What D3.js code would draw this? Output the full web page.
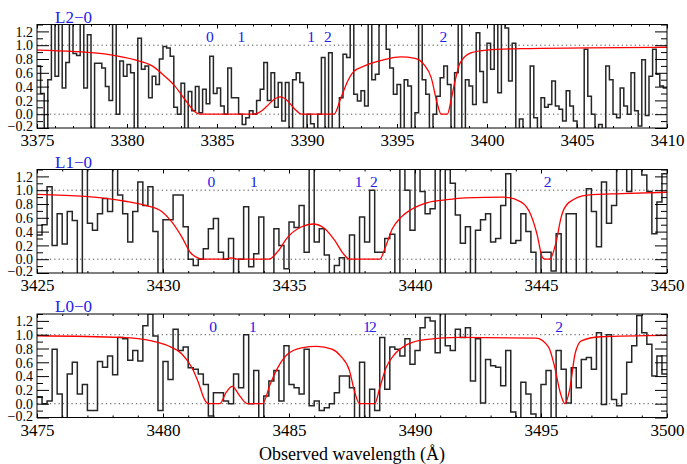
<!DOCTYPE html>
<html>
<head>
<meta charset="utf-8">
<script src="https://cdn.jsdelivr.net/npm/d3@7"></script>
<style>
body { margin: 0; background: #fff; }
</style>
</head>
<body>
<svg id="chart" width="687" height="464"></svg>
<script>
// spectra are binned at 0.2 A, one value per bin, starting at the panel's left edge
var binWidth = 0.2;
var bandNames = ["L2\u22120", "L1\u22120", "L0\u22120"];
var rangeStart = [3375, 3425, 3475];
var rangeEnd = [3410, 3450, 3500];
var xTicks1 = [3375, 3380, 3385, 3390, 3395, 3400, 3405, 3410];
var xTicks2 = [3425, 3430, 3435, 3440, 3445, 3450];
var xTicks3 = [3475, 3480, 3485, 3490, 3495, 3500];
var yTicks = [-0.2, 0, 0.2, 0.4, 0.6, 0.8, 1.0, 1.2];
var yMinor = [-0.1, 0.1, 0.3, 0.5, 0.7, 0.9, 1.1, 1.3];

var flux1 = [
  0.70, 0.30, -0.22, 0.50, 1.40, 0.55, 1.40, 0.38, 0.75, 1.40,
  0.88, 0.85, 1.40, 0.38, 1.15, -0.22, 0.74, 0.74, 0.67, 0.40,
  0.20, 1.40, 0.00, 0.77, 0.55, 0.72, 0.60, -0.22, 1.10, 0.65,
  0.70, 0.24, 0.55, 0.43, 0.80, 0.98, 0.96, 0.84, 0.10, 0.00,
  0.45, -0.22, 0.33, 0.05, 0.40, 0.02, 0.36, 0.15, 0.84, 0.30,
  0.38, 0.12, 0.00, 0.67, 0.24, 0.24, 0.00, -0.15, -0.05,
  0.05, 0.00, 0.20, 0.36, 0.75, 0.20, 0.60, 0.10, 0.46, -0.10,
  0.46, -0.22, 0.50, 0.60, 0.46, -0.22, 0.00, -0.14, -0.22, 0.00,
  0.82, -0.22, 0.89, -0.22, -0.22, 0.24, 0.87, 0.82, 1.40, 0.29,
  0.19, 0.34, 0.12, 1.40, 0.50, 0.58, 1.40, 1.40, 0.94, 0.67,
  0.29, 0.43, -0.22, 0.50, 0.41, -0.22, 0.02, 1.40, 0.50, 0.29,
  -0.22, 0.00, 0.26, 0.53, 0.70, 0.43, -0.22, 0.60, 1.40,
  -0.22, 0.50, 0.41, 0.14, 1.18, 0.62, 0.17, 1.03, 0.65, 1.40,
  0.31, 1.40, 1.25, 0.48, 1.03, -0.22, -0.07, -0.22, -0.22, 0.70,
  -0.05, -0.22, 0.24, 0.10, 0.14, 0.48, 0.12, 0.07, -0.10, 0.34,
  0.12, -0.10, -0.22, -0.22, 0.94, 0.26, 0.00, -0.22, -0.15, -0.22,
  0.70, 0.50, 0.00, -0.05, 0.38, 0.12, 0.00, 0.60, 0.05, -0.17,
  0.79, -0.02, 0.55, 0.94, 0.58, 0.41, 0.38
];

var flux2 = [
  0.35, 0.50, 1.05, 0.20, 0.66, 0.22, 0.69, 0.56, -0.22, 1.40,
  0.52, 0.42, 0.66, 0.88, 0.69, 1.40, 0.93, 0.66, 0.25, 0.69,
  1.12, 0.78, 1.05, 0.40, -0.22, 0.57, 0.57, 0.93, 0.93, 0.47,
  0.00, -0.09, 0.00, 0.15, 0.44, 0.59, 0.10, 0.00, 0.30, -0.22,
  0.00, 0.76, -0.11, 0.08, 0.61, -0.22, -0.22, 0.44, 0.20, -0.14,
  0.54, 0.46, 0.78, 0.10, 1.40, 0.25, 0.44, 0.06, -0.22, -0.09,
  0.02, -0.22, 0.35, -0.22, 0.61, 0.25, 1.00, 0.10, 0.10, 0.30,
  0.36, -0.22, 1.40, 1.00, 0.42, 1.40, 0.98, 0.66, 0.73, 1.40,
  -0.22, 1.30, 1.10, 0.64, 0.23, 0.47, -0.22, 0.42, 0.57, 0.66,
  0.25, 0.30, 0.78, 1.24, 0.23, 0.27, 0.66, 0.40, 0.10, -0.22,
  0.10, 0.10, -0.17, 0.37, -0.22, 0.66, 0.66, -0.22, -0.22, 1.02,
  0.69, 0.18, 1.12, 0.52, 0.78, 1.40, 1.40, 0.98, 1.40, 1.40,
  1.22, 0.98, 0.37, 0.83, 1.24
];

var flux3 = [
  0.10, 0.00, 0.04, 0.79, 0.14, -0.22, 0.43, 0.60, 0.14, 0.28,
  -0.10, -0.10, 0.61, 0.53, 0.69, 0.42, 0.96, 0.94, 0.63, 0.77,
  0.62, 1.13, 1.30, 0.98, -0.10, 0.61, 0.35, 1.08, 0.77, 0.82,
  0.52, 0.50, 0.43, 0.28, -0.18, 0.16, 0.16, 0.04, 0.00, 0.43,
  0.23, 1.00, 0.00, 0.48, -0.22, 0.11, 0.33, 0.48, 0.04, 0.84,
  0.28, 0.23, 0.14, 0.79, -0.03, 0.04, -0.10, -0.06, 0.00, 0.16,
  0.40, 0.40, 0.23, -0.22, 0.60, -0.22, 0.21, -0.10, 0.96, 0.21,
  0.82, 0.79, 0.69, 0.94, 0.57, 0.77, 1.10, 1.25, 1.20, 0.74,
  1.40, 0.84, 0.77, 1.08, 0.96, 1.10, 0.33, 0.94, 0.01, 0.64,
  0.55, 0.53, 0.26, 0.77, -0.12, -0.22, 0.31, 0.14, -0.15, -0.22,
  0.28, 0.48, -0.22, 0.77, 0.50, 0.01, 0.52, 0.23, 0.64, 0.67,
  0.50, 1.03, -0.01, 1.00, 0.06, -0.03, 0.14, 0.60, 0.84, 1.28,
  1.03, 0.86, 0.40, 0.69, 0.43
];

// fitted model as [wavelength, normalized flux]
var model1 = [
  [3375, 0.93], [3377, 0.91], [3379.1, 0.86], [3380.4, 0.79], [3381.4, 0.70],
  [3382.1, 0.55], [3382.65, 0.41], [3383.2, 0.22], [3383.75, 0.04], [3384.05, 0.0],
  [3387.0, 0.0], [3387.3, 0.02], [3387.75, 0.11], [3388.1, 0.20], [3388.5, 0.25],
  [3388.9, 0.20], [3389.3, 0.08], [3389.7, 0.0], [3391.5, 0.0], [3391.9, 0.25],
  [3392.3, 0.50], [3392.6, 0.62], [3393.2, 0.70], [3394.3, 0.79], [3395.2, 0.83],
  [3396.0, 0.81], [3396.5, 0.72], [3396.9, 0.53], [3397.25, 0.14], [3397.45, 0.0],
  [3397.8, 0.0], [3398.0, 0.20], [3398.2, 0.45], [3398.5, 0.74], [3399.1, 0.89],
  [3400.0, 0.93], [3401.9, 0.95], [3405.6, 0.96], [3410, 0.97]
];
var model2 = [
  [3425, 0.94], [3426.9, 0.91], [3428.5, 0.84], [3429.3, 0.78], [3429.95, 0.69],
  [3430.35, 0.54], [3430.75, 0.32], [3431.1, 0.09], [3431.45, 0.01], [3431.6, 0.0],
  [3432.4, 0.0], [3432.7, 0.02], [3433.0, 0.0], [3434.2, 0.0], [3434.55, 0.11],
  [3434.95, 0.32], [3435.5, 0.47], [3435.95, 0.51], [3436.4, 0.45], [3436.8, 0.28],
  [3437.2, 0.06], [3437.4, 0.0], [3438.6, 0.0], [3438.85, 0.20], [3439.1, 0.44],
  [3439.45, 0.61], [3439.85, 0.72], [3440.5, 0.82], [3441.2, 0.86], [3442, 0.89],
  [3443.5, 0.90], [3444.2, 0.83], [3444.6, 0.64], [3444.85, 0.35], [3445.05, 0.03],
  [3445.15, 0.0], [3445.35, 0.0], [3445.6, 0.25], [3445.8, 0.61], [3446.1, 0.82],
  [3446.85, 0.93], [3448.2, 0.95], [3450, 0.97]
];
var model3 = [
  [3475, 0.985], [3478.35, 0.96], [3479.55, 0.91], [3480.2, 0.84], [3480.75, 0.72],
  [3481.15, 0.52], [3481.4, 0.31], [3481.65, 0.06], [3481.8, 0.0], [3482.25, 0.0],
  [3482.5, 0.16], [3482.75, 0.25], [3483.05, 0.11], [3483.35, 0.0], [3483.95, 0.0],
  [3484.25, 0.28], [3484.55, 0.52], [3484.95, 0.72], [3485.5, 0.81], [3486.1, 0.83],
  [3486.7, 0.79], [3487.05, 0.69], [3487.4, 0.48], [3487.6, 0.18], [3487.8, 0.0],
  [3488.4, 0.0], [3488.6, 0.23], [3488.85, 0.52], [3489.2, 0.72], [3489.7, 0.86],
  [3490.4, 0.93], [3491.8, 0.96], [3494.8, 0.95], [3495.3, 0.82], [3495.55, 0.52],
  [3495.75, 0.18], [3495.95, 0.0], [3496.15, 0.23], [3496.35, 0.72], [3496.6, 0.91],
  [3497.35, 0.97], [3500, 0.99]
];

// component labels: [wavelength, text]
var comps1 = [[3384.6, "0"], [3386.35, "1"], [3390.23, "1"], [3391.16, "2"], [3397.57, "2"]];
var comps2 = [[3431.92, "0"], [3433.61, "1"], [3437.76, "1"], [3438.37, "2"], [3445.26, "2"]];
var comps3 = [[3481.99, "0"], [3483.57, "1"], [3488.09, "1"], [3488.33, "2"], [3495.72, "2"]];

var serif = "'Liberation Serif', 'Times New Roman', Times, 'DejaVu Serif', serif";
var svg = d3.select("#chart").style("font-family", serif);
var left = 37, width = 630, height = 103.5;
var tops = [24.5, 169.5, 314];
var blue = "#2020e8";

function drawPanel(i, flux, model, comps, xTicks) {

	var x = d3.scaleLinear()
		.domain([rangeStart[i], rangeEnd[i]])
		.range([0, width]);
	var y = d3.scaleLinear()
		.domain([-0.2, 1.3])
		.range([height, 0]);

	var g = svg.append("g")
		.attr("transform", `translate(${left},${tops[i]})`);

	g.append("clipPath").attr("id", "clip" + i)
		.append("rect").attr("width", width).attr("height", height);

	// dotted reference levels
	g.selectAll(".ref").data([0, 1]).enter().append("line")
		.attr("x1", 0).attr("x2", width)
		.attr("y1", d => y(d)).attr("y2", d => y(d))
		.attr("stroke", "#555")
		.attr("stroke-width", 1)
		.attr("stroke-dasharray", "1.3,3");

	var pts = flux.map((v, k) => [rangeStart[i] + k * binWidth, v]);
	pts.push([rangeStart[i] + flux.length * binWidth, flux[flux.length - 1]]);

	var step = d3.line()
		.x(d => x(d[0])).y(d => y(d[1]))
		.curve(d3.curveStepAfter);

	g.append("path")
		.attr("clip-path", `url(#clip${i})`)
		.attr("d", step(pts))
		.attr("fill", "none")
		.attr("stroke", "#262626")
		.attr("stroke-width", 1.5);

	var smooth = d3.line()
		.x(d => x(d[0])).y(d => y(d[1]))
		.curve(d3.curveMonotoneX);

	g.append("path")
		.attr("clip-path", `url(#clip${i})`)
		.attr("d", smooth(model))
		.attr("fill", "none")
		.attr("stroke", "#ff0000")
		.attr("stroke-width", 1.3);

	// axes, ticks point inward as in IDL plots
	var minorX = d3.range(rangeStart[i], rangeEnd[i] + 1, 1);

	g.append("g").attr("transform", `translate(0,${height})`)
		.call(d3.axisBottom(x).tickValues(minorX).tickSize(-2).tickFormat(""));
	var bottom = g.append("g").attr("transform", `translate(0,${height})`)
		.call(d3.axisBottom(x).tickValues(xTicks).tickSizeInner(-4).tickSizeOuter(0)
			.tickPadding(6).tickFormat(d3.format("d")));
	bottom.selectAll("text")
		.style("font-family", serif)
		.style("font-size", "17px");

	g.append("g")
		.call(d3.axisTop(x).tickValues(minorX).tickSize(-2).tickFormat(""));
	g.append("g")
		.call(d3.axisTop(x).tickValues(xTicks).tickSize(-4).tickFormat(""));

	var leftAx = g.append("g")
		.call(d3.axisLeft(y).tickValues(yTicks).tickSizeInner(-12).tickSizeOuter(0)
			.tickPadding(4).tickFormat(d3.format(".1f")));
	leftAx.selectAll("text")
		.style("font-family", serif)
		.style("font-size", "14px")
		.attr("dy", d => d < 0 ? "0.2em" : "0.34em");
	g.append("g")
		.call(d3.axisLeft(y).tickValues(yMinor).tickSize(-6).tickFormat(""));

	g.append("g").attr("transform", `translate(${width},0)`)
		.call(d3.axisRight(y).tickValues(yTicks).tickSize(-12).tickFormat(""));
	g.append("g").attr("transform", `translate(${width},0)`)
		.call(d3.axisRight(y).tickValues(yMinor).tickSize(-6).tickFormat(""));

	g.selectAll(".domain").remove();
	g.selectAll(".tick line").attr("stroke", "#000");

	g.append("rect")
		.attr("width", width).attr("height", height)
		.attr("fill", "none").attr("stroke", "#000").attr("stroke-width", 1);

	g.append("text")
		.attr("x", 18).attr("y", -2)
		.attr("fill", blue)
		.style("font-family", serif)
		.style("font-size", "17px")
		.text(bandNames[i]);

	g.selectAll(".comp").data(comps).enter().append("text")
		.attr("x", d => x(d[0]))
		.attr("y", 17.5)
		.attr("text-anchor", "middle")
		.attr("fill", blue)
		.style("font-family", serif)
		.style("font-size", "15.5px")
		.text(d => d[1]);
}

drawPanel(0, flux1, model1, comps1, xTicks1);
drawPanel(1, flux2, model2, comps2, xTicks2);
drawPanel(2, flux3, model3, comps3, xTicks3);

svg.append("text")
	.attr("x", 352).attr("y", 460)
	.attr("text-anchor", "middle")
	.style("font-family", serif)
	.style("font-size", "18px")
	.text("Observed wavelength (\u00c5)");
</script>
</body>
</html>
